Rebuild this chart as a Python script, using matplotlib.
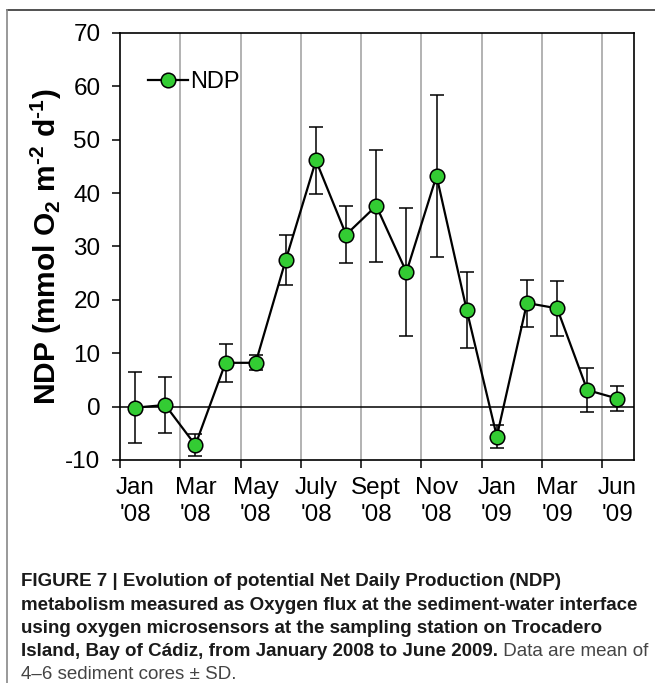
import numpy as np
import matplotlib
matplotlib.use("Agg")
import matplotlib.pyplot as plt
from matplotlib.lines import Line2D

plt.rcParams['font.family'] = ['Liberation Sans', 'DejaVu Sans']
plt.rcParams['axes.unicode_minus'] = False
plt.rcParams['mathtext.fontset'] = 'custom'
plt.rcParams['mathtext.rm'] = 'Liberation Sans:bold'
plt.rcParams['mathtext.bf'] = 'Liberation Sans:bold'
plt.rcParams['mathtext.default'] = 'bf'

# sampling month (0 = Jan 2008), mean NDP and SD
sample_month = [0, 1, 2, 3, 4, 5, 6, 7, 8, 9, 10, 11, 12, 13, 14, 15, 16]
ndp_mean = [-0.2, 0.3, -7.2, 8.2, 8.2, 27.5, 46.1, 32.2, 37.6, 25.2, 43.2,
            18.1, -5.6, 19.4, 18.4, 3.1, 1.5]
ndp_sd = [6.7, 5.2, 2.1, 3.6, 1.4, 4.7, 6.2, 5.4, 10.5, 12.0, 15.2,
          7.1, 2.2, 4.4, 5.1, 4.1, 2.4]

tick_labels = ["Jan\n'08", "Mar\n'08", "May\n'08", "July\n'08", "Sept\n'08",
               "Nov\n'08", "Jan\n'09", "Mar\n'09", "Jun\n'09"]
label_month = [0, 2, 4, 6, 8, 10, 12, 14, 16]

caption_bold = ["FIGURE 7 | Evolution of potential Net Daily Production (NDP)",
                "metabolism measured as Oxygen flux at the sediment-water interface",
                "using oxygen microsensors at the sampling station on Trocadero",
                "Island, Bay of C\u00e1diz, from January 2008 to June 2009."]
caption_plain = [" Data are mean of", "4\u20136 sediment cores \u00b1 SD."]

x = np.array(sample_month) + 0.5  # mid-month

fig = plt.figure(figsize=(6.55, 6.83), dpi=100)
ax = fig.add_axes([120 / 655, 1 - 460 / 683, 514 / 655, 427.2 / 683])

green = '#33cc33'
ax.errorbar(x, ndp_mean, yerr=ndp_sd, fmt='none', ecolor='black',
            elinewidth=1.1, capsize=5, capthick=1.1, zorder=3)
ax.plot(x, ndp_mean, color='black', lw=1.6, marker='o', ms=10.5,
        mfc=green, mec='black', mew=1.1, zorder=4, label='NDP')
ax.axhline(0, color='black', lw=1.1, zorder=2)

ax.set_xlim(0, 17.05)
ax.set_ylim(-10, 70)
ax.set_yticks(np.arange(-10, 71, 10))
ax.set_xticks(np.arange(0, 17, 2))
ax.set_xticklabels([])
ax.set_xticks(np.array(label_month) + 0.5, minor=True)
ax.set_xticklabels(tick_labels, minor=True, fontsize=17.5, linespacing=1.3)
ax.tick_params(axis='x', which='minor', length=0, pad=12)
ax.tick_params(axis='x', which='major', length=6, width=1.1, direction='out')
ax.tick_params(axis='y', length=6, width=1.1, direction='out', labelsize=17.5, pad=8)

for m in range(2, 17, 2):
    ax.axvline(m, color='#a6a6a6', lw=1.2, zorder=1)

for s in ax.spines.values():
    s.set_linewidth(1.2)

ax.set_ylabel(r'NDP (mmol O$_2$ m$^{\text{-2}}$ d$^{\text{-1}}$)',
              fontsize=21.5, fontweight='bold', labelpad=1)

ax.legend(loc='center left', bbox_to_anchor=(0.054, 0.885), frameon=False,
          fontsize=17, handlelength=1.7, handletextpad=0.1, borderpad=0,
          borderaxespad=0)

# frame lines of the figure panel
fig.add_artist(Line2D([7 / 655, 1], [1 - 10 / 683, 1 - 10 / 683],
                      color='#333333', lw=1.2))
fig.add_artist(Line2D([7 / 655, 7 / 655], [0, 1 - 10 / 683],
                      color='#888888', lw=1.2))

# caption
baselines = [586, 610, 633, 656, 679]
for i, line in enumerate(caption_bold):
    t = fig.text(21 / 655, 1 - baselines[i] / 683, line, fontsize=13.5,
                 fontweight='bold', va='baseline', ha='left', color='#1a1a1a')
ax.annotate(caption_plain[0], xy=(1, 0), xycoords=t, fontsize=13.5,
            color='#444444', va='bottom', ha='left', annotation_clip=False)
fig.text(21 / 655, 1 - baselines[4] / 683, caption_plain[1], fontsize=13.5,
         color='#444444', va='baseline', ha='left')

fig.savefig('out.png', dpi=100)
